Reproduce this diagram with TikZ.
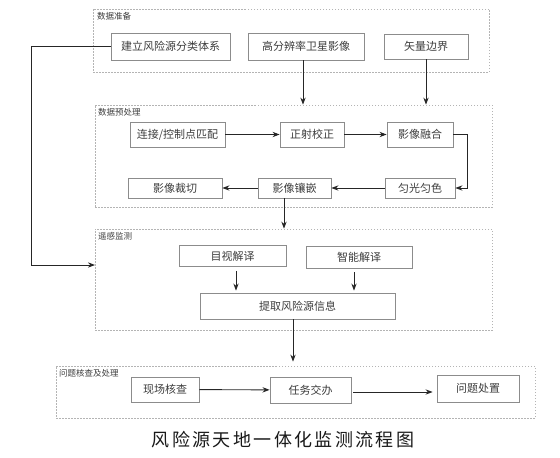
\documentclass[tikz,border=0pt]{standalone}
\usepackage{fontspec}
\setmainfont{Noto Sans CJK SC}
\usepackage{xcolor}
\usetikzlibrary{positioning, calc, arrows.meta}

\definecolor{boxline}{HTML}{8C8C8C}
\definecolor{grpline}{HTML}{B4B4B4}
\definecolor{txtgray}{HTML}{3C3C3C}

\tikzset{
    stepbox/.style={draw=boxline, line width=0.8pt, minimum height=25pt, inner sep=0pt, text=txtgray, font=\fontsize{11}{13}\selectfont},
    grpbox/.style={draw=grpline, dash pattern=on 1.5pt off 1.5pt, line width=0.7pt, inner sep=0pt},
    grptitle/.style={anchor=north west, inner sep=0pt, text=txtgray, font=\fontsize{8.5}{10}\selectfont},
    flow/.style={->, line width=0.9pt, draw=black!85}
}

\begin{document}
\begin{tikzpicture}[x=1pt, y=-1pt, >=Stealth]
    \useasboundingbox (0,0) rectangle (560,458);

    % Group boxes
    \node[grpbox, minimum width=396pt, minimum height=63pt] (zhunbei) at (291,40.5) {};
    \node[grpbox, minimum width=397pt, minimum height=102pt] (yuchuli) at (293.5,156) {};
    \node[grpbox, minimum width=397pt, minimum height=101pt] (jiance) at (293.5,279.5) {};
    \node[grpbox, minimum width=479pt, minimum height=52pt] (chuli) at (295.5,392) {};

    \node[grptitle] (t1) at (97,12) {数据准备};
    \node[grptitle] (t2) at (98,108) {数据预处理};
    \node[grptitle] (t3) at (98,232) {遥感监测};
    \node[grptitle] (t4) at (59,369) {问题核查及处理};

    % Data preparation
    \node[stepbox, minimum width=119pt, minimum height=27pt] (fenlei) at (170.5,46.5) {建立风险源分类体系};
    \node[stepbox, minimum width=116pt, minimum height=27pt] (weixing) at (306,46.5) {高分辨率卫星影像};
    \node[stepbox, minimum width=84pt] (bianjie) at (426,46.5) {矢量边界};

    % Preprocessing
    \node[stepbox, minimum width=95pt] (pipei) at (177.5,134.5) {连接/控制点匹配};
    \node[stepbox, minimum width=64pt] (zhengshe) at (312,134.5) {正射校正};
    \node[stepbox, minimum width=66pt] (ronghe) at (420,134.5) {影像融合};
    \node[stepbox, minimum width=94pt, minimum height=20pt] (caiqie) at (175,188) {影像裁切};
    \node[stepbox, minimum width=73pt, minimum height=20pt] (xiangqian) at (294.5,188) {影像镶嵌};
    \node[stepbox, minimum width=70pt, minimum height=20pt] (junguang) at (420,188) {匀光匀色};

    % Monitoring
    \node[stepbox, minimum width=107pt, minimum height=21pt] (mushi) at (232.5,256) {目视解译};
    \node[stepbox, minimum width=106pt, minimum height=22pt] (zhineng) at (359,257) {智能解译};
    \node[stepbox, minimum width=195pt, minimum height=26pt] (tiqu) at (297.5,306) {提取风险源信息};

    % Checking and handling
    \node[stepbox, minimum width=68pt] (hecha) at (165,389.5) {现场核查};
    \node[stepbox, minimum width=81pt, minimum height=26pt] (jiaoban) at (310.5,390) {任务交办};
    \node[stepbox, minimum width=82pt, minimum height=27pt] (chuzhi) at (478,388.5) {问题处置};

    % Caption
    \node[text=black!90, font=\fontsize{18}{20}\selectfont\addfontfeature{LetterSpace=13}] (caption) at (283,440) {风险源天地一体化监测流程图};

    % Connectors
    \coordinate (zhe) at (31,46.5);
    \coordinate (ru) at (95,265);
    \draw[flow] (fenlei.west) -- (zhe) |- (ru);
    \draw[flow] ([xshift=-3pt]weixing.south) -- ([xshift=-3pt]weixing.south |- yuchuli.north);
    \draw[flow] (bianjie.south) -- (bianjie.south |- yuchuli.north);
    \draw[flow] (pipei) -- (zhengshe);
    \draw[flow] (zhengshe) -- (ronghe);
    \draw[flow] (ronghe.east) -- ++(14,0) |- (junguang.east);
    \draw[flow] (junguang) -- (xiangqian);
    \draw[flow] (xiangqian) -- (caiqie);
    \draw[flow] ([xshift=-10.5pt]xiangqian.south) -- ([xshift=-10.5pt]xiangqian.south |- jiance.north);
    \draw[flow, shorten <=4pt, shorten >=2pt] ([xshift=3.5pt]mushi.south) -- ([xshift=3.5pt]mushi.south |- tiqu.north);
    \draw[flow, shorten <=4pt, shorten >=2pt] ([xshift=-5pt]zhineng.south) -- ([xshift=-5pt]zhineng.south |- tiqu.north);
    \draw[flow, shorten >=4pt] ([xshift=-4.5pt]tiqu.south) -- ([xshift=-4.5pt]tiqu.south |- chuli.north);
    \draw[flow] (hecha) -- (jiaoban);
    \draw[flow, shorten <=2pt, shorten >=4pt] ([yshift=-2pt]jiaoban.east) -- ([yshift=-2pt]jiaoban.east -| chuzhi.west);
\end{tikzpicture}
\end{document}
